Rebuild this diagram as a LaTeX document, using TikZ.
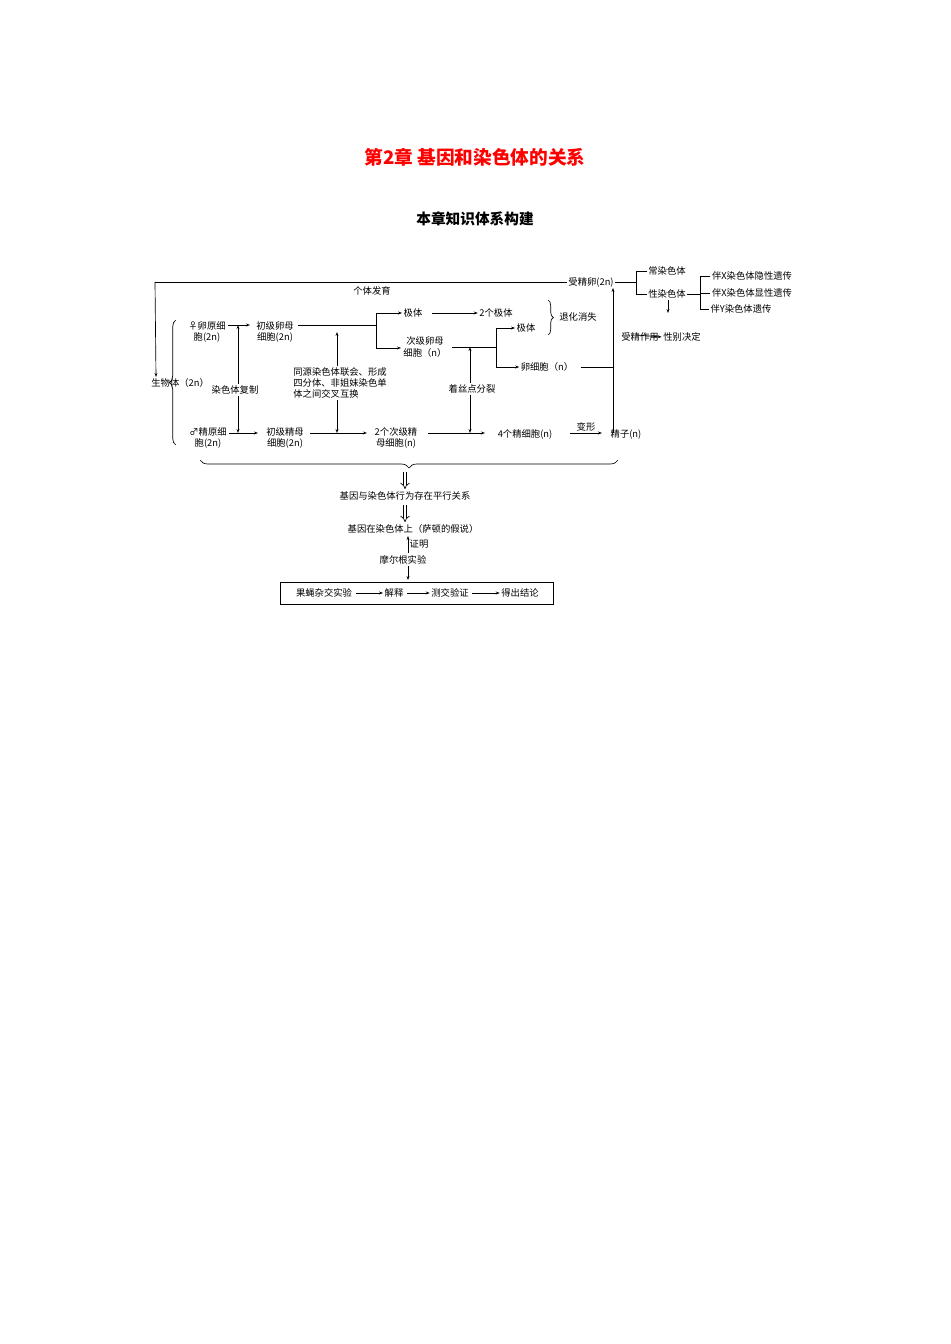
\documentclass[tikz,border=0pt]{standalone}
\usepackage{fontspec}
\setmainfont{Noto Sans CJK SC}
\usetikzlibrary{arrows.meta,decorations.pathreplacing}
\begin{document}
\begin{tikzpicture}[x=0.75pt,y=-0.75pt,
  t/.style={inner sep=1pt,font=\fontsize{7}{8.5}\selectfont,align=center},
  tl/.style={t,align=left},
  vt/.style={t,text width=7pt,align=center,font=\fontsize{7}{7.6}\selectfont},
  ar/.style={-{Stealth[length=3pt,width=2.2pt]},line width=0.5pt},
  ln/.style={line width=0.5pt},
  dar/.style={{Stealth[length=3pt,width=2.2pt]}-{Stealth[length=3pt,width=2.2pt]},line width=0.5pt},
  dbl/.style={double,double distance=2pt,line width=0.5pt,-{Implies}}]
\useasboundingbox (0,0) rectangle (950,1344);
\node[font=\bfseries\fontsize{14}{16}\selectfont,text=red] (title) at (475,157) {第2章\ 基因和染色体的关系};
\node[font=\bfseries\fontsize{11}{13}\selectfont] (sub) at (475,219) {本章知识体系构建};

\node[t] (zjl) at (591,282) {受精卵(2\textit{n})};
\node[vt] (swt) at (156,383) {生物体（2\textit{n}）};
\node[t] (gtfy) at (372,291) {个体发育};
\coordinate (tl) at (155,282);
\draw[ln] (zjl.west) -- (tl);
\draw[ar] (tl) -- (swt.north);
\draw[decorate,decoration={brace,amplitude=5pt},ln] (176,445) -- (176,320);

\node[t] (lyx) at (207,332) {♀卵原细\\胞(2\textit{n})};
\node[t] (cjl) at (275,332) {初级卵母\\细胞(2\textit{n})};
\node[t] (jyx) at (208,438) {♂精原细\\胞(2\textit{n})};
\node[t] (cjj) at (285,438) {初级精母\\细胞(2\textit{n})};
\node[t] (cjlb) at (425,347) {次级卵母\\细胞（\textit{n}）};
\node[t] (cjjb) at (396,438) {2个次级精\\母细胞(\textit{n})};
\node[t] (jt1) at (413,313) {极体};
\node[t] (jt2) at (496,313) {2个极体};
\node[t] (jt3) at (526,328) {极体};
\node[t] (lxb) at (547,367) {卵细胞（\textit{n}）};
\node[t] (jxb) at (525,434) {4个精细胞(\textit{n})};
\node[t] (jz) at (626,434) {精子(\textit{n})};
\node[t] (thxs) at (578,317) {退化消失};
\node[vt] (sjzy) at (626,337) {受精作用};
\node[vt] (xbjd) at (668,337) {性别决定};
\node[t] (cst) at (667,271) {常染色体};
\node[t] (xst) at (667,294) {性染色体};
\node[t] (bx1) at (752,276) {伴X染色体隐性遗传};
\node[t] (bx2) at (752,293) {伴X染色体显性遗传};
\node[t] (by) at (741,309) {伴Y染色体遗传};

% top row
\draw[ar] (228,325) -- (250,325);
\draw[ln] (298,325) -- (376,325);
\draw[ar] (376,313) -- (jt1.west);
\draw[ln] (376,313) -- (376,348);
\draw[ar] (376,348) -- (401,348);
\draw[ar] (jt1.east) ++(8,0) -- (jt2.west);
\draw[ln] (452,347) -- (496,347);
\draw[ln] (496,328) -- (496,367);
\draw[ar] (496,328) -- (jt3.west);
\draw[ar] (496,367) -- (lxb.west);
\draw[decorate,decoration={brace,amplitude=4pt},ln] (548,300) -- (548,335);
\coordinate (fj) at (613,367);
\draw[ln] (lxb.east) ++(6,0) -- (fj);
\draw[ar] (613,433) -- (613,288);
\draw[ar] (636,335) -- (xbjd.west);

% right brackets
\draw[ln] (zjl.east) -- (636,282);
\draw[ln] (cst.west) -- (636,271) -- (636,294) -- (xst.west);
\draw[ar] (668,300) -- (668,313);
\draw[ln] (xst.east) -- (700,294);
\draw[ln] (bx1.west) -- (700,276) -- (700,309) -- (by.west);
\draw[ln] (700,293) -- (bx2.west);

% bottom row
\draw[ar] (229,433) -- (258,433);
\draw[ar] (310,433) -- (367,433);
\draw[ar] (428,433) -- (485,433);
\draw[ar] (570,433) -- node[t,above] (bx) {变形} (602,433);

% vertical double arrows
\draw[dar] (238,325) -- (238,433);
\node[t,fill=white] (rstfz) at (235,390) {染色体复制};
\draw[dar] (337,332) -- (337,433);
\node[tl,fill=white] (tyrst) at (340,383) {同源染色体联会、形成\\四分体、非姐妹染色单\\体之间交叉互换};
\draw[dar] (470,347) -- (470,433);
\node[t,fill=white] (zsd) at (472,389) {着丝点分裂};

% bottom brace
\draw[decorate,decoration={brace,amplitude=6pt},ln] (618,460) -- (200,460);

\node[t] (px) at (405,496) {基因与染色体行为存在平行关系};
\node[t] (sd) at (413,529) {基因在染色体上（萨顿的假说）};
\node[t] (mr) at (403,560) {摩尔根实验};
\draw[dbl] (405,472) -- (405,489);
\draw[dbl] (405,505) -- (405,522);
\draw[ar] (mr.north -| 408,0) ++(0,-1) -- node[t,right] (zm) {证明} (408,536);
\draw[ar] (408,566) -- (408,580);
\draw[line width=0.6pt] (280,582) rectangle (553,604);
\node[t] (gy) at (324,593) {果蝇杂交实验};
\node[t] (js) at (394,593) {解释};
\node[t] (cj) at (450,593) {测交验证};
\node[t] (dc) at (520,593) {得出结论};
\draw[ar] (gy.east) ++(2,0) -- (js.west);
\draw[ar] (js.east) ++(2,0) -- (cj.west);
\draw[ar] (cj.east) ++(2,0) -- (dc.west);
\end{tikzpicture}
\end{document}
